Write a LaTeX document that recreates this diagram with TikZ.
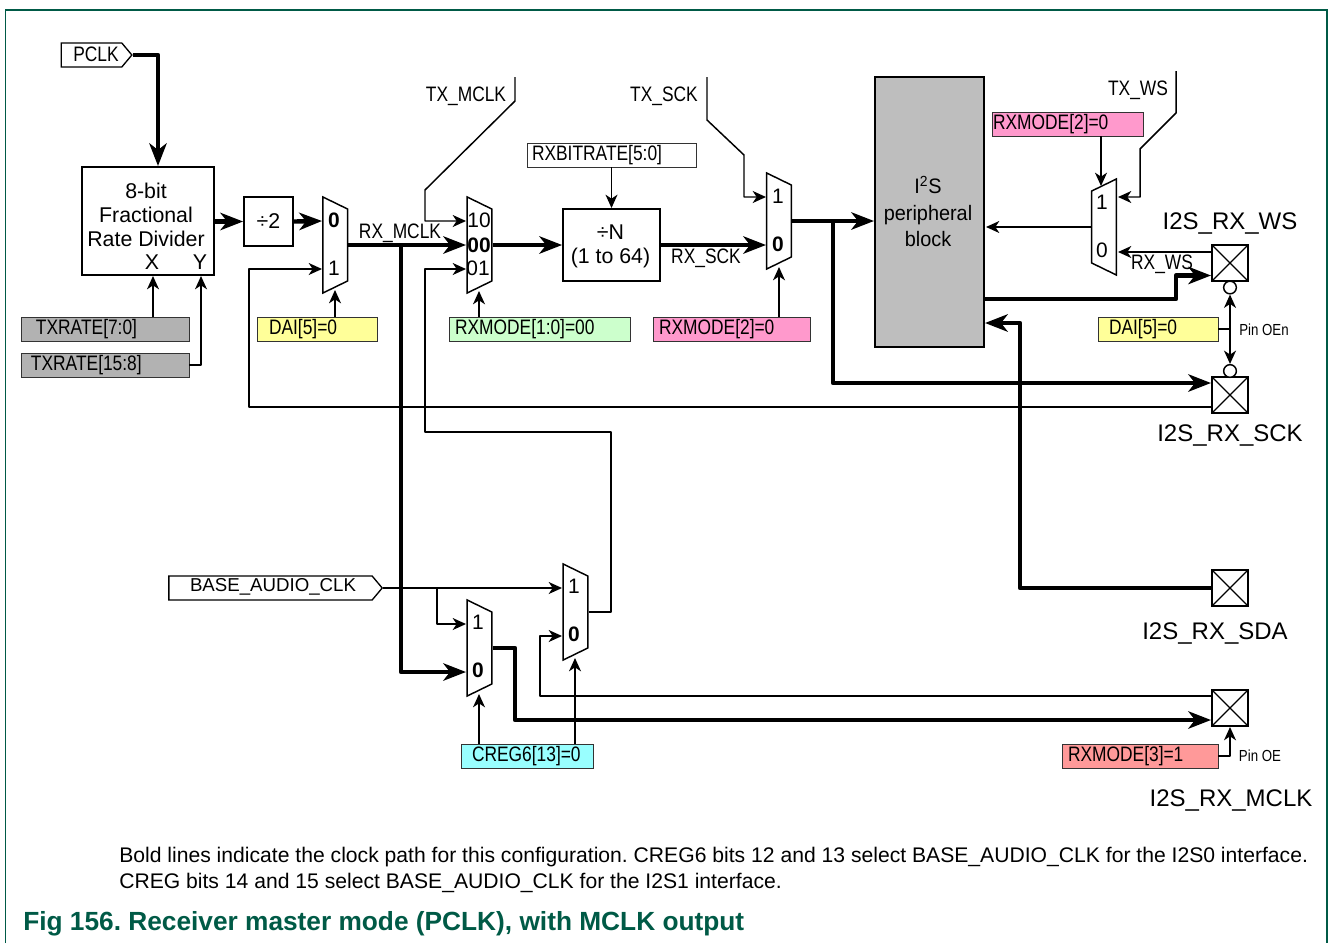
\documentclass[tikz,border=0pt]{standalone}
\usepackage{fontspec}
\setmainfont{Liberation Sans}
\newfontfamily\narrowfont[FakeStretch=0.83]{Liberation Sans}
\newfontfamily\blockfont[FakeStretch=0.95]{Liberation Sans}
\usetikzlibrary{arrows.meta,shapes.geometric,shapes.symbols}
\definecolor{framegreen}{HTML}{005A46}
\definecolor{reggrey}{HTML}{B2B2B2}
\definecolor{blockgrey}{HTML}{BEBEBE}
\definecolor{regyellow}{HTML}{FFFF99}
\definecolor{reggreen}{HTML}{CCFFCC}
\definecolor{regpink}{HTML}{FF99CC}
\definecolor{regred}{HTML}{FF9999}
\definecolor{regcyan}{HTML}{99FFFF}
\begin{document}
\frenchspacing
\begin{tikzpicture}[
  x=0.75pt, y=-0.75pt,
  wire/.style={line width=1.1pt, draw=black, line join=round},
  wirearrow/.style={wire, -{Stealth[length=10pt,width=9pt,inset=3pt]}},
  wireboth/.style={wire, {Stealth[length=10pt,width=9pt,inset=3pt]}-{Stealth[length=10pt,width=9pt,inset=3pt]}},
  bus/.style={line width=3.3pt, draw=black, line join=round},
  busarrow/.style={bus, -{Stealth[length=17pt,width=13pt,inset=5pt]}},
  blockbox/.style={draw=black, line width=1.6pt, inner sep=0pt},
  regbox/.style={draw=black!80, line width=0.7pt, minimum height=18pt, inner ysep=0pt, font=\narrowfont\fontsize{15.7}{18}\selectfont, align=left},
  muxright/.style={trapezium, draw=black, fill=white, line width=1.1pt, inner sep=1pt, trapezium stretches=true,
    trapezium left angle=80.5, trapezium right angle=80.5, shape border rotate=270, minimum width=72pt, minimum height=18.5pt},
  muxleft/.style={muxright, shape border rotate=90},
  pad/.style={draw=black, fill=white, line width=1.7pt, minimum size=27pt, inner sep=0pt,
    path picture={\draw[line width=1pt] (path picture bounding box.north west) -- (path picture bounding box.south east)
      (path picture bounding box.south west) -- (path picture bounding box.north east);}},
  bubble/.style={circle, draw=black, fill=white, line width=1.1pt, minimum size=9.5pt, inner sep=0pt},
  flag/.style={signal, signal to=east, signal from=nowhere, signal pointer angle=100, draw=black, fill=white, line width=1pt, inner sep=0pt},
  txt/.style={font=\fontsize{16}{18}\selectfont, inner sep=0pt, align=center},
  muxtxt/.style={font=\fontsize{15.7}{18}\selectfont, inner sep=0pt},
  muxbold/.style={font=\bfseries\fontsize{15.7}{18}\selectfont, inner sep=0pt},
  nartxt/.style={font=\narrowfont\fontsize{15.7}{18}\selectfont, inner sep=0pt},
  pintxt/.style={font=\narrowfont\fontsize{12}{14}\selectfont, inner sep=0pt},
  padtxt/.style={font=\fontsize{18}{20}\selectfont, inner sep=0pt}
]

  \useasboundingbox (0,0) rectangle (1330,943);

  % Frame
  \coordinate (frameA) at (5.5,943);
  \coordinate (frameB) at (5.5,10);
  \coordinate (frameC) at (1327,10);
  \coordinate (frameD) at (1327,943);
  \draw[framegreen, line width=0.8pt] (frameA) -- (frameB) -- (frameC) -- (frameD);

  % Blocks
  \node[flag, minimum width=53pt, minimum height=18pt] (pclk) at (91.5,55) {};
  \node[nartxt] (pclktxt) at (96,54) {PCLK};
  \node[blockbox, minimum width=99pt, minimum height=81pt] (frd) at (148,221) {};
  \node[txt] (frdtxt) at (146,215) {8-bit\\Fractional\\Rate Divider};
  \node[txt] (frdx) at (152,262) {X};
  \node[txt] (frdy) at (200,262) {Y};
  \node[blockbox, minimum size=36.5pt, font=\fontsize{16}{18}\selectfont] (div) at (268.5,221.5) {÷2};
  \node[blockbox, minimum width=72.5pt, minimum height=54pt, align=center, font=\fontsize{16}{18}\selectfont] (divn) at (611.5,245) {};
  \node[txt] (divntxt) at (610.5,246.5) {÷N\\(1 to 64)};
  \node[blockbox, fill=blockgrey, minimum width=81.5pt, minimum height=202.5pt] (i2s) at (929.5,212) {};
  \node[inner sep=0pt, align=center, font=\blockfont\fontsize{15.7}{20}\selectfont] (i2stxt) at (928,211.5) {I\textsuperscript{2}S\\peripheral\\block};

  % Registers
  \node[regbox, fill=reggrey, text width=103.5pt, inner xsep=11.25pt] (txlo) at (105,329) {TXRATE[7:0]};
  \node[regbox, fill=reggrey, text width=111pt, inner xsep=7.5pt] (txhi) at (105,365) {TXRATE[15:8]};
  \node[regbox, fill=regyellow, text width=72pt, inner xsep=9pt] (dai) at (317,329) {DAI[5]=0};
  \node[regbox, fill=reggreen, text width=126.75pt, inner xsep=4.5pt] (modea) at (539.5,329) {RXMODE[1:0]=00};
  \node[regbox, fill=regpink, text width=108.75pt, inner xsep=4.5pt] (modeb) at (731.5,329) {RXMODE[2]=0};
  \node[regbox, fill=white, text width=119.25pt, inner xsep=3.75pt] (bitrate) at (611.5,155) {RXBITRATE[5:0]};
  \node[regbox, fill=regpink, text width=111.75pt, inner xsep=0.75pt] (modec) at (1067.5,124) {RXMODE[2]=0};
  \node[regbox, fill=regyellow, text width=73.5pt, inner xsep=8.25pt] (daib) at (1158,329) {DAI[5]=0};
  \node[regbox, fill=regcyan, text width=82.5pt, inner xsep=8.25pt] (creg) at (527,756) {CREG6[13]=0};
  \node[regbox, fill=regred, text width=108pt, inner xsep=4.5pt] (moded) at (1140,756) {RXMODE[3]=1};
  \node[flag, minimum width=160pt, minimum height=18pt] (audio) at (270.5,588) {};
  \node[font=\fontsize{14}{16}\selectfont, inner sep=0pt] (audiotxt) at (273,587) {BASE\_AUDIO\_CLK};

  % Muxes
  \node[muxright] (ma) at (335.25,245) {};
  \node[muxbold] (ma0) at (334,220) {0};
  \node[muxtxt] (ma1) at (334,268) {1};
  \node[muxright] (mb) at (479.5,245) {};
  \node[muxtxt] (mb10) at (479,220) {10};
  \node[muxbold] (mb00) at (479,245) {00};
  \node[muxtxt] (mb01) at (478,268) {01};
  \node[muxright] (mc) at (779,221) {};
  \node[muxtxt] (mc1) at (778,196) {1};
  \node[muxbold] (mc0) at (778,244) {0};
  \node[muxleft] (md) at (1104,227) {};
  \node[muxtxt] (md1) at (1102,202) {1};
  \node[muxtxt] (md0) at (1102,250) {0};
  \node[muxright] (me) at (479.5,648) {};
  \node[muxtxt] (me1) at (478,622) {1};
  \node[muxbold] (me0) at (478,670) {0};
  \node[muxright] (mf) at (575.5,612) {};
  \node[muxtxt] (mf1) at (574,586) {1};
  \node[muxbold] (mf0) at (574,634) {0};

  % Pads
  \node[pad] (padws) at (1230,263) {};
  \node[pad] (padsck) at (1230,395) {};
  \node[pad] (padsda) at (1230,588) {};
  \node[pad] (padmclk) at (1230,708) {};
  \node[bubble] (bubws) at (1230,287.5) {};
  \node[bubble] (bubsck) at (1230,371) {};
  \node[padtxt] (wstxt) at (1230,223) {I2S\_RX\_WS};
  \node[padtxt] (scktxt) at (1230,435) {I2S\_RX\_SCK};
  \node[padtxt] (sdatxt) at (1215,633) {I2S\_RX\_SDA};
  \node[padtxt] (mclktxt) at (1231,800) {I2S\_RX\_MCLK};

  % Signal names
  \node[nartxt] (rxmclk) at (400,233) {RX\_MCLK};
  \node[nartxt] (rxsck) at (706,258) {RX\_SCK};
  \node[nartxt] (rxws) at (1162,264) {RX\_WS};
  \node[nartxt] (txmclk) at (466,96) {TX\_MCLK};
  \node[nartxt] (txsck) at (664,96) {TX\_SCK};
  \node[nartxt] (txws) at (1138,90) {TX\_WS};
  \node[pintxt] (pinoen) at (1264,330) {Pin OEn};
  \node[pintxt] (pinoe) at (1260,756) {Pin OE};

  % Bends and pins
  \coordinate (frdin) at (158,166);
  \coordinate (frdxin) at (153,276);
  \coordinate (frdyin) at (201,276);
  \coordinate (ybend) at (201,365);
  \coordinate (maa) at (322,221);
  \coordinate (mab) at (322,269);
  \coordinate (masel) at (335,290);
  \coordinate (mba) at (466,221);
  \coordinate (mbb) at (466,245);
  \coordinate (mbc) at (466,269);
  \coordinate (mbsel) at (479,291);
  \coordinate (mca) at (766,197);
  \coordinate (mcb) at (766,245);
  \coordinate (mcsel) at (779,267);
  \coordinate (mda) at (1118,197);
  \coordinate (mdb) at (1118,252);
  \coordinate (mdsel) at (1101,186);
  \coordinate (mea) at (466,624);
  \coordinate (meb) at (466,672);
  \coordinate (mesel) at (479,694);
  \coordinate (mfa) at (562,588);
  \coordinate (mfb) at (562,636);
  \coordinate (mfsel) at (575,658);
  \coordinate (mclksplit) at (401,245);
  \coordinate (scksplit) at (833,221);
  \coordinate (audiosplit) at (437,588);
  \coordinate (txmA) at (515,77);
  \coordinate (txmB) at (515,101);
  \coordinate (txmC) at (425,190);
  \coordinate (txmD) at (425,221);
  \coordinate (txsA) at (707,77);
  \coordinate (txsB) at (707,120);
  \coordinate (txsC) at (744,155);
  \coordinate (txsD) at (744,197);
  \coordinate (txwA) at (1176,71);
  \coordinate (txwB) at (1176,113);
  \coordinate (txwC) at (1140,149);
  \coordinate (txwD) at (1140,197);
  \coordinate (fbA) at (611,612);
  \coordinate (fbB) at (611,432);
  \coordinate (fbC) at (425,432);
  \coordinate (fbD) at (425,269);
  \coordinate (sckin) at (1211,407);
  \coordinate (sckbend) at (249,407);
  \coordinate (sckup) at (249,269);
  \coordinate (mclkin) at (1212,696);
  \coordinate (mclkbend) at (540,696);
  \coordinate (mclkup) at (540,636);
  \coordinate (wsout) at (984,299);
  \coordinate (wsoutA) at (1176,299);
  \coordinate (wsoutB) at (1176,275.5);
  \coordinate (wspin) at (1211,275.5);
  \coordinate (wsin) at (1212,252);
  \coordinate (sckpin) at (1211,383);
  \coordinate (sckdown) at (833,383);
  \coordinate (sdapin) at (1212,588);
  \coordinate (sdabend) at (1020,588);
  \coordinate (sdaup) at (1020,323);
  \coordinate (sdain) at (985,323);
  \coordinate (i2sin) at (874,221);
  \coordinate (i2sws) at (986,227);
  \coordinate (meout) at (515,648);
  \coordinate (medown) at (515,720);
  \coordinate (mclkpin) at (1211,720);
  \coordinate (modedA) at (1230,756);
  \coordinate (modedB) at (1230,727);
  \coordinate (daibend) at (1230,329);
  \coordinate (bitin) at (611.5,208);

  % Clock path
  \draw[busarrow] (pclk.east) -| (frdin);
  \draw[busarrow] (frd.east |- div.west) -- (div.west);
  \draw[busarrow] (div.east) -- (maa);
  \draw[busarrow] (ma.east) -- (mbb);
  \draw[busarrow] (mclksplit) |- (meb);
  \draw[busarrow] (mb.east) -- (divn.west);
  \draw[busarrow] (divn.east) -- (mcb);
  \draw[busarrow] (mc.east) -- (i2sin);
  \draw[busarrow] (scksplit) -- (sckdown) -- (sckpin);
  \draw[busarrow] (wsout) -- (wsoutA) -- (wsoutB) -- (wspin);
  \draw[busarrow] (sdapin) -- (sdabend) -- (sdaup) -- (sdain);
  \draw[busarrow] (me.east) -- (meout) -- (medown) -- (mclkpin);

  % Other signals
  \draw[wirearrow] (frdxin |- txlo.north) -- (frdxin);
  \draw[wirearrow] (txhi.east) -- (ybend) -- (frdyin);
  \draw[wirearrow] (masel |- dai.north) -- (masel);
  \draw[wirearrow] (mbsel |- modea.north) -- (mbsel);
  \draw[wirearrow] (mcsel |- modeb.north) -- (mcsel);
  \draw[wirearrow] (mdsel |- modec.south) -- (mdsel);
  \draw[wirearrow] (bitrate.south) -- (bitin);
  \draw[wirearrow] (mesel |- creg.north) -- (mesel);
  \draw[wirearrow] (mfsel |- creg.north) -- (mfsel);
  \draw[wirearrow] (txmA) -- (txmB) -- (txmC) -- (txmD) -- (mba);
  \draw[wirearrow] (txsA) -- (txsB) -- (txsC) -- (txsD) -- (mca);
  \draw[wirearrow] (txwA) -- (txwB) -- (txwC) -- (txwD) -- (mda);
  \draw[wirearrow] (mf.east) -- (fbA) -- (fbB) -- (fbC) -- (fbD) -- (mbc);
  \draw[wirearrow] (sckin) -- (sckbend) -- (sckup) -- (mab);
  \draw[wirearrow] (mclkin) -- (mclkbend) -- (mclkup) -- (mfb);
  \draw[wirearrow] (audio.east) -- (mfa);
  \draw[wirearrow] (audiosplit) |- (mea);
  \draw[wirearrow] (md.west) -- (i2sws);
  \draw[wirearrow] (wsin) -- (mdb);
  \draw[wire] (daib.east) -- (daibend);
  \draw[wireboth] (bubws.south) -- (bubsck.north);
  \draw[wirearrow] (moded.east) -- (modedA) -- (modedB);

  % Notes
  \node[anchor=base west, inner sep=0pt, font=\fontsize{15.85}{19.5}\selectfont] (notea) at (119,862) {Bold lines indicate the clock path for this configuration. CREG6 bits 12 and 13 select BASE\_AUDIO\_CLK for the I2S0 interface.};
  \node[anchor=base west, inner sep=0pt, font=\fontsize{15.85}{19.5}\selectfont] (noteb) at (119,888) {CREG bits 14 and 15 select BASE\_AUDIO\_CLK for the I2S1 interface.};
  \node[anchor=base west, inner sep=0pt, text=framegreen, font=\bfseries\fontsize{19.7}{22}\selectfont] (caption) at (23,930) {Fig 156. Receiver master mode (PCLK), with MCLK output};

\end{tikzpicture}
\end{document}
